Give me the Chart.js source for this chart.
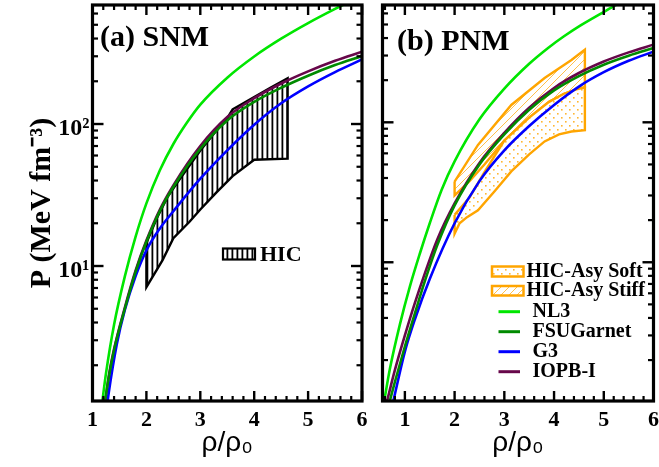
<!DOCTYPE html>
<html>
<head>
<meta charset="utf-8">
<script src="https://cdn.jsdelivr.net/npm/chart.js@4.4.1/dist/chart.umd.min.js"></script>
<style>
  html, body { margin: 0; padding: 0; background: #fff; }
  #wrap { position: relative; width: 659px; height: 467px; overflow: hidden; background: #fff; }
  .panel { position: absolute; top: 0; height: 467px; }
  #pa { left: 0; width: 372px; }
  #pb { left: 372px; width: 287px; }
</style>
</head>
<body>
<div id="wrap">
  <div class="panel" id="pa"><canvas id="ca" width="372" height="467"></canvas></div>
  <div class="panel" id="pb"><canvas id="cb" width="287" height="467"></canvas></div>
</div>
<script>
// ---- axis ticks ----
const xTickValues = [1, 2, 3, 4, 5, 6];
const yMajorTicks = [10, 100];
const yTickText = ['10\u00B9', '10\u00B2'];

// ---- (a) symmetric nuclear matter: P (MeV fm^-3) vs rho/rho0 ----
const snmNL3Rho  = [1.17, 1.25, 1.4, 1.6, 1.8, 2.0, 2.25, 2.5, 2.75, 3.0, 3.5, 4.0, 4.5, 5.0, 5.5, 5.7];
const snmNL3P    = [1.02, 1.75, 3.86, 8.45, 16.1, 27.6, 47.2, 72.3, 102, 137, 212, 299, 399, 514, 647, 706];
const snmFSURho  = [1.23, 1.3, 1.4, 1.6, 1.8, 2.0, 2.25, 2.5, 3.0, 3.5, 4.0, 4.5, 5.0, 5.5, 6.0];
const snmFSUP    = [1.12, 1.62, 2.55, 5.0, 9.1, 14.8, 24.4, 36, 67, 106, 143, 180, 219, 260, 301];
const snmG3Rho   = [1.26, 1.3, 1.45, 1.6, 1.8, 2.0, 2.25, 2.5, 3.0, 3.5, 4.0, 4.5, 5.0, 5.5, 6.0];
const snmG3P     = [0.97, 1.27, 2.8, 4.9, 8.5, 12.9, 18.4, 24.3, 41.2, 65.3, 98.9, 140, 184, 232, 285];
const snmIOPBRho = [1.24, 1.3, 1.4, 1.6, 1.8, 2.0, 2.25, 2.5, 3.0, 3.5, 4.0, 4.5, 5.0, 5.5, 6.0];
const snmIOPBP   = [1.12, 1.66, 2.6, 5.1, 9.3, 15.1, 25, 37, 70, 112, 152, 193, 235, 279, 323];

// flow constraint band (upper and lower edges)
const hicUpperRho = [2.0, 2.2, 2.4, 2.6, 3.0, 3.3, 3.5, 3.6, 4.0, 4.3, 4.62];
const hicUpperP   = [14.5, 22, 31, 40, 65, 90, 110, 127, 155, 180, 210];
const hicLowerRho = [2.0, 2.3, 2.5, 2.8, 3.0, 3.3, 3.6, 4.0, 4.62];
const hicLowerP   = [7.1, 11, 15.7, 20.5, 25, 33, 43, 56, 57];

// ---- (b) pure neutron matter ----
const pnmNL3Rho  = [0.58, 0.7, 0.9, 1.1, 1.3, 1.5, 1.74, 2.0, 2.5, 3.0, 3.5, 3.88, 4.2, 4.55, 5.15, 5.3];
const pnmNL3P    = [1.0, 1.74, 3.6, 6.7, 11.5, 19, 33, 52.6, 105, 174, 262, 340, 412, 497, 659, 705];
const pnmFSURho  = [0.7, 0.8, 1.0, 1.2, 1.4, 1.65, 2.0, 2.5, 3.0, 3.5, 4.0, 4.5, 5.0, 5.5, 6.0];
const pnmFSUP    = [1.03, 1.4, 2.5, 4.3, 7.3, 13.2, 25.5, 50, 82, 123, 169, 214, 258, 299, 339];
const pnmG3Rho   = [0.77, 1.0, 1.2, 1.5, 2.0, 2.5, 3.0, 3.5, 4.0, 4.5, 5.0, 5.5, 6.0];
const pnmG3P     = [1.03, 2.3, 3.9, 7.6, 19, 38, 63, 94, 133, 180, 228, 275, 320];
const pnmIOPBRho = [0.645, 0.8, 1.0, 1.2, 1.4, 1.65, 2.0, 2.5, 3.0, 3.5, 4.0, 4.5, 5.0, 5.5, 6.0];
const pnmIOPBP   = [1.03, 1.7, 3.0, 5.1, 8.3, 14.5, 26.3, 51.3, 84, 127, 176, 225, 272, 316, 359];

// asymmetric-flow bands
const stiffUpperRho = [2.0, 2.47, 3.14, 3.81, 4.35, 4.48, 4.62];
const stiffUpperP   = [37.7, 69, 133, 207, 279, 303, 330];
const stiffLowerRho = [2.0, 2.3, 2.6, 3.0, 3.5, 3.9, 4.2, 4.45, 4.62];
const stiffLowerP   = [30, 38, 50, 74, 108, 140, 160, 172, 178];
const softUpperRho  = [2.0, 2.3, 2.6, 3.0, 3.5, 3.9, 4.2, 4.45, 4.62];
const softUpperP    = [21.8, 29, 44, 74, 108, 140, 160, 172, 178];
const softLowerRho  = [2.0, 2.1, 2.25, 2.47, 2.8, 3.14, 3.5, 3.81, 4.1, 4.35, 4.62];
const softLowerP    = [16, 19, 21, 23.5, 32, 44.6, 59, 73, 82, 86, 88];

// ---- helpers ----
const pts = (xs, ys) => xs.map((x, i) => ({ x, y: ys[i] }));
function band(ux, uy, lx, ly) {
  const up = pts(ux, uy);
  const lo = pts(lx, ly).reverse();
  return up.concat(lo, [up[0]]);
}
function makePattern(w, h, paint) {
  const tile = document.createElement('canvas');
  tile.width = w; tile.height = h;
  const g = tile.getContext('2d');
  paint(g, w, h);
  return g.createPattern(tile, 'repeat');
}
const hicHatch = makePattern(5, 5, (g, w, h) => {
  g.fillStyle = '#fff'; g.fillRect(0, 0, w, h);
  g.fillStyle = '#000'; g.fillRect(1.5, 0, 1.8, h);
});
const stiffHatch = makePattern(8, 8, (g) => {
  g.fillStyle = '#fff'; g.fillRect(0, 0, 8, 8);
  g.strokeStyle = 'rgba(255,165,0,0.7)'; g.lineWidth = 1;
  g.beginPath();
  g.moveTo(-1, 9); g.lineTo(9, -1);
  g.moveTo(-1, 1); g.lineTo(1, -1);
  g.moveTo(7, 9); g.lineTo(9, 7);
  g.stroke();
});
const softDots = makePattern(8, 8, (g) => {
  g.fillStyle = '#fff'; g.fillRect(0, 0, 8, 8);
  g.fillStyle = 'rgba(255,165,0,0.8)';
  g.fillRect(1, 1, 1.6, 1.6);
  g.fillRect(5, 5, 1.6, 1.6);
});

const COL = { NL3: '#00e600', FSU: '#008a00', G3: '#0000ff', IOPB: '#67074a', ORANGE: '#ffa500' };
const SERIF = '"Liberation Serif", "Times New Roman", serif';

function curve(label, xs, ys, color) {
  return { label, data: pts(xs, ys), borderColor: color, backgroundColor: color, borderWidth: 2.6,
           pointRadius: 0, fill: false, cubicInterpolationMode: 'monotone', order: 1 };
}
function region(label, data, border, pattern) {
  return { label, data, borderColor: border, backgroundColor: pattern, borderWidth: 2.4,
           pointRadius: 0, fill: 'shape', tension: 0, order: 10 };
}

function minorX(lo, hi) {
  const out = [];
  for (let k = Math.ceil(lo * 5); k <= Math.floor(hi * 5); k++) if (k % 5 !== 0) out.push(k / 5);
  return out;
}
function minorY(lo, hi) {
  const out = [];
  for (let d = 1; d <= 100; d *= 10) for (let m = 2; m <= 9; m++) { const v = m * d; if (v > lo && v < hi) out.push(v); }
  return out;
}

// inward tick marks on all four sides and the heavy frame
function framePlugin(xMin, xMax, yMin, yMax, decorate) {
  const xMinor = minorX(xMin, xMax), yMinor = minorY(yMin, yMax);
  return {
    id: 'frame',
    afterDatasetsDraw(chart) {
      const { ctx, chartArea: a, scales } = chart;
      const xs = scales.x, ys = scales.y;
      const seg = (x1, y1, x2, y2) => { ctx.beginPath(); ctx.moveTo(x1, y1); ctx.lineTo(x2, y2); ctx.stroke(); };
      ctx.save();
      ctx.strokeStyle = '#000';
      ctx.lineCap = 'butt';
      ctx.lineWidth = 2.4;
      xTickValues.forEach(v => { if (v < xMin || v > xMax) return; const p = xs.getPixelForValue(v);
        seg(p, a.bottom, p, a.bottom - 10); seg(p, a.top, p, a.top + 10); });
      yMajorTicks.forEach(v => { const p = ys.getPixelForValue(v);
        seg(a.left, p, a.left + 11, p); seg(a.right, p, a.right - 11, p); });
      ctx.lineWidth = 2.2;
      xMinor.forEach(v => { const p = xs.getPixelForValue(v);
        seg(p, a.bottom, p, a.bottom - 5); seg(p, a.top, p, a.top + 5); });
      yMinor.forEach(v => { const p = ys.getPixelForValue(v);
        seg(a.left, p, a.left + 5.5, p); seg(a.right, p, a.right - 5.5, p); });
      ctx.lineWidth = 3.2;
      ctx.strokeRect(a.left, a.top, a.right - a.left, a.bottom - a.top);
      ctx.restore();
    },
    afterDraw(chart) { decorate(chart, chart.ctx); }
  };
}

function baseOptions(xMin, xMax, yMin, yMax, padding, showY) {
  return {
    responsive: false,
    animation: false,
    layout: { padding, autoPadding: false },
    plugins: { legend: { display: false }, tooltip: { enabled: false }, title: { display: false } },
    scales: {
      x: {
        type: 'linear', min: xMin, max: xMax,
        afterBuildTicks: s => { s.ticks = xTickValues.map(v => ({ value: v })); },
        afterFit: s => { s.height = 66; s.paddingLeft = 0; s.paddingRight = 0; },
        grid: { display: false, drawTicks: false },
        border: { display: false },
        ticks: { color: '#000', padding: 6, maxRotation: 0, font: { family: SERIF, size: 22, weight: 'bold' },
                 callback: v => String(v) },
        title: { display: true, text: '\u03C1/\u03C1\u2080', color: '#000',
                 font: { family: '"Liberation Sans", Arial, sans-serif', size: 28 },
                 padding: { top: 0, bottom: 7 } }
      },
      y: {
        type: 'logarithmic', min: yMin, max: yMax, display: showY,
        afterBuildTicks: s => { s.ticks = yMajorTicks.map(v => ({ value: v })); },
        afterFit: s => { s.width = showY ? 92.5 : 0; s.paddingTop = 0; s.paddingBottom = 0; },
        grid: { display: false, drawTicks: false },
        border: { display: false },
        ticks: { color: '#000', padding: 3, labelOffset: 5, font: { family: SERIF, size: 24, weight: 'bold' },
                 callback: v => yTickText[yMajorTicks.indexOf(v)] || '' },
        title: { display: true, text: 'P (MeV fm\u207B\u00B3)', color: '#000',
                 font: { family: SERIF, size: 30, weight: 'bold' },
                 padding: { top: 24, bottom: 0 } }
      }
    }
  };
}

// ---- panel (a) ----
const snmYMin = 1.12, snmYMax = 689;
new Chart(document.getElementById('ca'), {
  type: 'line',
  data: {
    datasets: [
      region('HIC', band(hicUpperRho, hicUpperP, hicLowerRho, hicLowerP), '#000', hicHatch),
      curve('NL3', snmNL3Rho, snmNL3P, COL.NL3),
      curve('FSUGarnet', snmFSURho, snmFSUP, COL.FSU),
      curve('G3', snmG3Rho, snmG3P, COL.G3),
      curve('IOPB-I', snmIOPBRho, snmIOPBP, COL.IOPB)
    ]
  },
  options: baseOptions(1, 6, snmYMin, snmYMax, { left: 0, right: 10, top: 5, bottom: 0 }, true),
  plugins: [framePlugin(1, 6, snmYMin, snmYMax, (chart, ctx) => {
    ctx.save();
    ctx.fillStyle = '#000';
    ctx.font = 'bold 30px ' + SERIF;
    ctx.textBaseline = 'alphabetic';
    ctx.fillText('(a) SNM', 100, 46);
    // band key
    ctx.fillStyle = hicHatch;
    ctx.fillRect(223, 248.5, 32, 11);
    ctx.strokeStyle = '#000'; ctx.lineWidth = 2.2;
    ctx.strokeRect(223, 248.5, 32, 11);
    ctx.fillStyle = '#000';
    ctx.font = 'bold 22px ' + SERIF;
    ctx.textBaseline = 'middle';
    ctx.fillText(chart.data.datasets[0].label, 260, 255);
    ctx.restore();
  })]
});

// ---- panel (b) ----
const pnmYMin = 1.02, pnmYMax = 689;
new Chart(document.getElementById('cb'), {
  type: 'line',
  data: {
    datasets: [
      region('HIC-Asy Soft', band(softUpperRho, softUpperP, softLowerRho, softLowerP), COL.ORANGE, softDots),
      region('HIC-Asy Stiff', band(stiffUpperRho, stiffUpperP, stiffLowerRho, stiffLowerP), COL.ORANGE, stiffHatch),
      curve('NL3', pnmNL3Rho, pnmNL3P, COL.NL3),
      curve('FSUGarnet', pnmFSURho, pnmFSUP, COL.FSU),
      curve('G3', pnmG3Rho, pnmG3P, COL.G3),
      curve('IOPB-I', pnmIOPBRho, pnmIOPBP, COL.IOPB)
    ]
  },
  options: baseOptions(0.55, 6, pnmYMin, pnmYMax, { left: 10.5, right: 5.5, top: 5, bottom: 0 }, false),
  plugins: [framePlugin(0.55, 6, pnmYMin, pnmYMax, (chart, ctx) => {
    const ds = chart.data.datasets;
    ctx.save();
    ctx.fillStyle = '#000';
    ctx.font = 'bold 30px ' + SERIF;
    ctx.textBaseline = 'alphabetic';
    ctx.fillText('(b) PNM', 25, 50);
    ctx.font = 'bold 20px ' + SERIF;
    ctx.textBaseline = 'middle';
    // band keys
    [[0, 266.5, 10, 272], [1, 286, 9.5, 291]].forEach(([i, y, h, ty]) => {
      ctx.fillStyle = ds[i].backgroundColor;
      ctx.fillRect(120, y, 31.5, h);
      ctx.strokeStyle = COL.ORANGE; ctx.lineWidth = 2.5;
      ctx.strokeRect(120, y, 31.5, h);
      ctx.fillStyle = '#000';
      ctx.fillText(ds[i].label, 154.5, ty);
    });
    // line keys
    [2, 3, 4, 5].forEach((i, k) => {
      const y = 311.7 + 20 * k;
      ctx.strokeStyle = ds[i].borderColor; ctx.lineWidth = 3;
      ctx.beginPath(); ctx.moveTo(126.5, y); ctx.lineTo(148, y); ctx.stroke();
      ctx.fillStyle = '#000';
      ctx.fillText(ds[i].label, 160.5, y);
    });
    ctx.restore();
  })]
});
</script>
</body>
</html>
